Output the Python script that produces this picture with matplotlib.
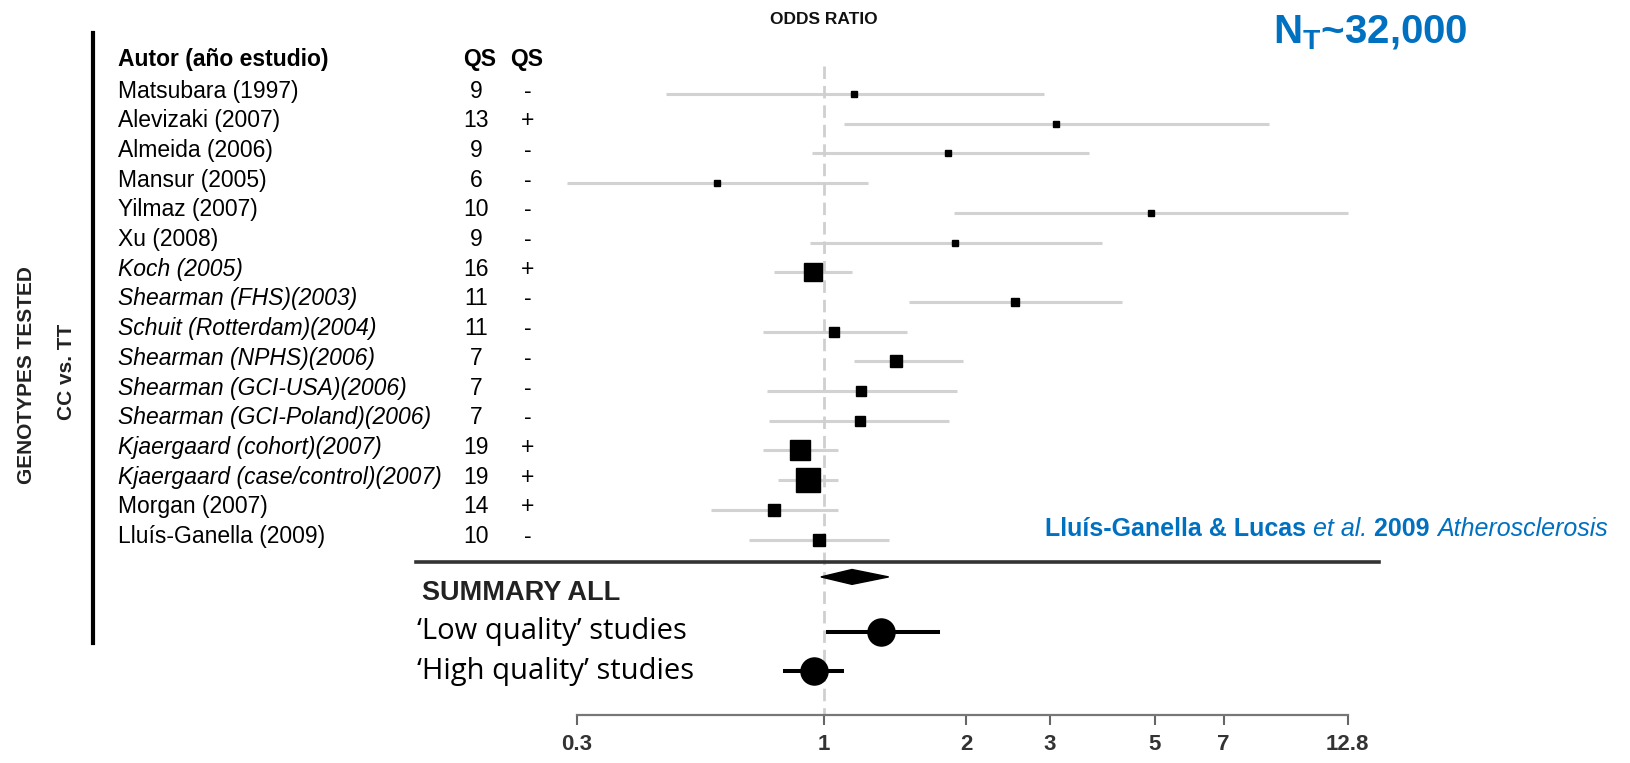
import numpy as np
import matplotlib
matplotlib.use("Agg")
import matplotlib.pyplot as plt
from matplotlib import font_manager

# studies (top to bottom)
studies = ["Matsubara (1997)", "Alevizaki (2007)", "Almeida (2006)", "Mansur (2005)",
           "Yilmaz (2007)", "Xu (2008)", "Koch (2005)", "Shearman (FHS)(2003)",
           "Schuit (Rotterdam)(2004)", "Shearman (NPHS)(2006)", "Shearman (GCI-USA)(2006)",
           "Shearman (GCI-Poland)(2006)", "Kjaergaard (cohort)(2007)",
           "Kjaergaard (case/control)(2007)", "Morgan (2007)", "Lluís-Ganella (2009)"]
italic = [False, False, False, False, False, False, True, True,
          True, True, True, True, True, True, False, False]
qs = [9, 13, 9, 6, 10, 9, 16, 11, 11, 7, 7, 7, 19, 19, 14, 10]
qs_sign = ["-", "+", "-", "-", "-", "-", "+", "-", "-", "-", "-", "-", "+", "+", "+", "-"]

or_point = [1.158, 3.10, 1.83, 0.594, 4.91, 1.89, 0.95, 2.53,
            1.05, 1.42, 1.20, 1.19, 0.89, 0.927, 0.785, 0.975]
or_low = [0.464, 1.10, 0.941, 0.286, 1.88, 0.936, 0.785, 1.51,
          0.742, 1.16, 0.757, 0.765, 0.742, 0.80, 0.577, 0.695]
or_high = [2.92, 8.73, 3.63, 1.24, 12.8, 3.87, 1.146, 4.26,
           1.50, 1.97, 1.91, 1.84, 1.07, 1.07, 1.07, 1.37]
# study weight
weight = [6, 6, 7, 6.5, 6, 7, 19, 8, 11, 12, 10, 10, 20, 24, 13, 12]

summary_all = [0.985, 1.146, 1.37]
low_quality = [1.022, 1.323, 1.738]
high_quality = [0.826, 0.952, 1.091]

tick_values = [0.3, 1, 2, 3, 5, 7, 12.8]
tick_labels = ["0.3", "1", "2", "3", "5", "7", "12.8"]

blue = "#0070C0"

available = {f.name for f in font_manager.fontManager.ttflist}
if "Liberation Sans Narrow" in available:
    narrow = ["Liberation Sans Narrow", "DejaVu Sans"]
    nsize = 18
else:
    narrow = ["Liberation Sans", "DejaVu Sans"]
    nsize = 16.5

plt.rcParams["mathtext.fontset"] = "custom"
plt.rcParams["mathtext.bf"] = "Liberation Sans:bold"
plt.rcParams["mathtext.rm"] = "Liberation Sans"

W, H = 1630, 763
fig = plt.figure(figsize=(W / 100, H / 100), dpi=100)
ax = fig.add_axes([0, 0, 1, 1])
ax.set_xscale("log")
x1_px, decade = 824, 473
row0, step = 94, 29.7
ax.set_xlim(10 ** ((0 - x1_px) / decade), 10 ** ((W - x1_px) / decade))
ax.set_ylim((H - row0) / step, -row0 / step)

rows = np.arange(len(studies))
fx = ax.get_yaxis_transform()  # x in figure fraction, y in rows

# reference line at OR = 1
ax.plot([1, 1], [-0.95, 20.91], color="#cfcfcf", lw=2, ls=(0, (4.5, 2.5)), zorder=2)

# study CIs and boxes
ax.hlines(rows, or_low, or_high, color="#d2d2d2", lw=2.2, zorder=1)
for i in rows:
    ax.plot(or_point[i], i, marker="s", color="black", ms=weight[i] / 1.389, zorder=3)

# summary diamond
lo, pt, hi = summary_all
yd, hd = 16.26, 0.25
ax.fill([lo, pt, hi, pt], [yd, yd - hd, yd, yd + hd], color="black", zorder=3)

# low / high quality subgroups
for vals, y in [(low_quality, 18.11), (high_quality, 19.44)]:
    ax.plot([vals[0], vals[2]], [y, y], color="black", lw=2.9, zorder=3)
    ax.plot(vals[1], y, marker="o", color="black", ms=19.5, zorder=4)

# separator line
ax.plot([416 / W, 1379 / W], [15.76, 15.76], transform=fx, color="#333333", lw=2.6)

# left vertical bar
ax.plot([93 / W, 93 / W], [-2.05, 18.5], transform=fx, color="black", lw=3)

# axis
for s in ["top", "left", "right"]:
    ax.spines[s].set_visible(False)
ax.spines["bottom"].set_position(("data", 20.91))
ax.spines["bottom"].set_bounds(0.3, 12.8)
ax.spines["bottom"].set_color("#777777")
ax.spines["bottom"].set_linewidth(1.6)
ax.set_xticks(tick_values)
ax.set_xticklabels(tick_labels)
ax.xaxis.set_minor_locator(matplotlib.ticker.NullLocator())
ax.tick_params(axis="x", direction="out", length=7, width=1.5, color="#666666",
               pad=7, labelsize=16, labelcolor="#333333")
for lab in ax.get_xticklabels():
    lab.set_fontweight("bold")
    lab.set_family(["Liberation Sans", "DejaVu Sans"])
ax.set_yticks([])
ax.patch.set_visible(False)

# column texts
ax.text(118 / W, -1.15, "Autor (año estudio)", transform=fx, family=narrow, size=nsize,
        weight="bold", va="center")
ax.text(480 / W, -1.15, "QS", transform=fx, family=narrow, size=nsize, weight="bold",
        ha="center", va="center")
ax.text(527 / W, -1.15, "QS", transform=fx, family=narrow, size=nsize, weight="bold",
        ha="center", va="center")
for i in rows:
    ax.text(118 / W, i - 0.1, studies[i], transform=fx, family=narrow, size=nsize,
            style="italic" if italic[i] else "normal", va="center")
    ax.text(476 / W, i - 0.1, str(qs[i]), transform=fx, family=narrow, size=nsize,
            ha="center", va="center")
    ax.text(528 / W, i - 0.1, qs_sign[i], transform=fx, family=narrow, size=nsize,
            ha="center", va="center")

ax.text(1, -2.5, "ODDS RATIO", family=narrow, size=12.5, weight="bold", ha="center",
        va="center", color="#111111")

ax.text(27 / W, 9.45, "GENOTYPES TESTED", transform=fx, family=narrow, size=15,
        weight="bold", rotation=90, ha="center", va="center", color="#222222")
ax.text(67 / W, 9.35, "CC vs. TT", transform=fx, family=narrow, size=15,
        weight="bold", rotation=90, ha="center", va="center", color="#222222")

ax.text(422 / W, 16.8, "SUMMARY ALL", transform=fx, family=["Liberation Sans", "DejaVu Sans"],
        size=19.5, weight="bold", va="center", color="#222222")
ax.text(417 / W, 18.11, "\u2018Low quality\u2019 studies", transform=fx,
        family=["Open Sans", "DejaVu Sans"], size=21, va="center")
ax.text(417 / W, 19.44, "\u2018High quality\u2019 studies", transform=fx,
        family=["Open Sans", "DejaVu Sans"], size=21, va="center")

ax.text(1273 / W, -1.7, "N$_\\mathbf{T}$~32,000", transform=fx,
        family=["Liberation Sans", "DejaVu Sans"], size=29, weight="bold",
        color=blue, va="baseline")

# citation, written piece by piece
renderer = fig.canvas.get_renderer()
pieces = [("Lluís-Ganella & Lucas ", "bold", "normal"), ("et al. ", "normal", "italic"),
          ("2009 ", "bold", "normal"), ("Atherosclerosis", "normal", "italic")]
xpos = 1045 / W
for s, w, st in pieces:
    t = ax.text(xpos, 14.88, s, transform=fx, family=["Liberation Sans", "DejaVu Sans"],
                size=18, weight=w, style=st, color=blue, va="baseline")
    bb = t.get_window_extent(renderer=renderer)
    xpos = bb.x1 / W

fig.savefig("out.png", dpi=100)
